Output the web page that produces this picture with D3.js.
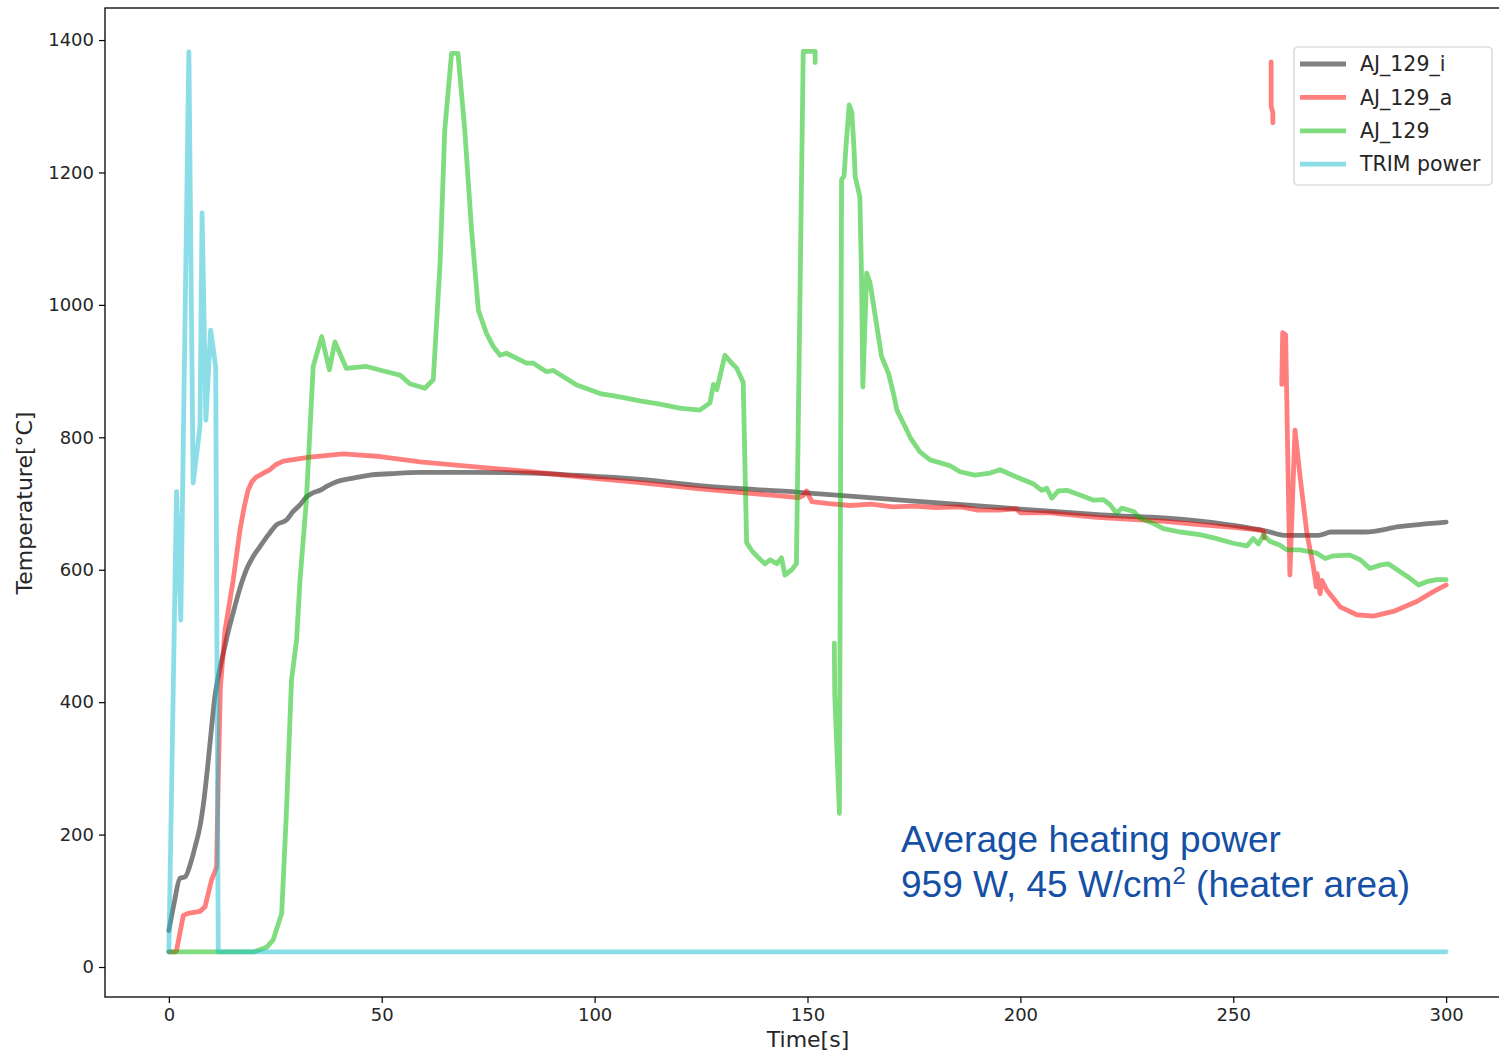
<!DOCTYPE html>
<html lang="en">
<head>
<meta charset="UTF-8">
<title>Temperature vs time</title>
<script src="https://d3js.org/d3.v7.min.js"></script>
<style>
  html, body { margin: 0; padding: 0; background: #fff; }
  svg { display: block; }
</style>
</head>
<body>
<div id="chart"></div>
<script>
// AJ_129_i (gray)
const timeI = [0, 1.2, 2.6, 3.8, 5.3, 6.3, 7.3, 8.3, 9.2, 10, 10.8, 11.8, 12.8, 14, 15.1, 16.6, 18.2, 19.8, 21.4, 23.4, 25.3, 27.6, 29.2, 30.8, 32.3, 33.8, 35.5, 37.4, 39.4, 43, 47.2, 52, 59, 70.7, 85, 100, 110, 124.7, 148, 172, 195, 219, 240, 250, 258, 262, 270, 273, 281, 289, 300];
const tempI = [55, 95, 134, 136, 161, 185, 212, 255, 308, 360, 408, 445, 474, 508, 535, 570, 600, 620, 635, 653, 668, 675, 688, 698, 710, 716, 720, 727, 733, 738, 743, 745, 747, 747, 746, 741, 737, 727, 717, 705, 694, 683, 675, 667, 658, 652, 652, 657, 657, 665, 672];

// AJ_129_a (red), null = gap in the record
const timeA = [0, 1.5, 1.8, 3.4, 4.5, 7.3, 8.5, 10, 11.2, 11.6, 12.1, 13.2, 15.1, 16.7, 17.7, 18.6, 19.5, 20.5, 21.4, 22.5, 23.7, 25.2, 26.9, 30, 33.1, 40.9, 49.6, 59, 70.7, 85, 100, 110, 124.7, 148, 149, 149.8, 151, 155, 160, 165, 170, 175, 180, 186, 190, 195, 199, 200, 207, 218, 226, 234, 242, 250, 256.3, 257.1, 257.3,
  258, 258.9, 258.9, 259.3, 259.3,
  260, 261.4, 261.6, 262.3, 263.3, 264.5, 265.7, 267.3, 268.8, 269.5, 269.7, 270.4, 270.8, 272, 275.1, 279, 282.9, 287.6, 293.1, 297, 300];
const tempA = [23, 23, 25, 78, 81, 84, 91, 131, 151, 282, 423, 509, 584, 660, 695, 720, 733, 740, 743, 747, 751, 759, 764, 767, 770, 775, 771, 763, 756, 748, 738, 732, 722, 709, 712, 719, 703, 700, 697, 699, 695, 696, 694, 695, 690, 690, 692, 686, 686, 679, 676, 673, 668, 664, 660, 658, 648,
  null, 1367, 1300, 1290, 1275,
  null, 880, 958, 955, 592, 811, 740, 655, 605, 574, 594, 564, 584, 569, 544, 532, 530, 537, 552, 567, 577];

// AJ_129 (green)
const time129 = [0, 20, 23, 24.5, 26.5, 27.6, 28.8, 30, 30.8, 32.3, 33.9, 35.9, 37.7, 39, 41.7, 46.4, 51.1, 54.3, 56.6, 60.1, 62.1, 63.7, 64.8, 66.4, 67.9, 69.5, 71.1, 72.7, 74.6, 76.2, 77.8, 79.3, 84, 85.6, 88.7, 90.3, 95.8, 101.3, 105.9, 110.6, 115.3, 120, 124.7, 127.1, 127.9, 128.7, 130.6, 132.2, 133.4, 134.9, 135.7, 136.9, 138.5, 140, 141.2, 142.8, 143.9, 144.7, 146.3, 147.4, 149, 151.8, 151.8,
  154, 156.3, 156.4, 157.5, 158, 158.6, 159, 159.8, 160.4, 160.9, 161.2, 162.3, 162.7, 163, 163.9, 164.7, 167.4, 169, 170.2, 171, 173.3, 174.1, 176.4, 178.8, 183.5, 185.8, 189.3, 192.9, 195.2, 199.1, 203, 205, 206.2, 207.4, 208.9, 210.9, 214, 217.2, 219.5, 221.1, 222.6, 223.8, 226.6, 228.1, 231.2, 233.6, 237.5, 242.2, 246.1, 250, 253.2, 254.7, 255.9, 257.1, 258.6, 261, 262.6, 265.7, 269.6, 271.6, 273.5, 277.4, 279.8, 282.1, 284.5, 286.4, 289.2, 291.5, 293.5, 295.4, 297.8, 300];
const temp129 = [23, 23, 30, 41, 81, 232, 433, 494, 584, 705, 907, 952, 902, 944, 904, 907, 899, 894, 881, 874, 887, 1063, 1264, 1380, 1380, 1264, 1113, 992, 957, 937, 924, 927, 912, 912, 899, 901, 879, 866, 861, 855, 850, 844, 841, 852, 880, 872, 924, 912, 904, 883, 641, 629, 618, 609, 615, 609, 618, 592, 600, 609, 1383, 1383, 1366,
  null, 489, 411, 232, 1189, 1195, 1236, 1302, 1291, 1239, 1194, 1163, 1038, 876, 1048, 1033, 922, 897, 866, 841, 811, 800, 778, 766, 757, 748, 743, 746, 751, 740, 730, 720, 723, 708, 719, 720, 713, 705, 706, 698, 685, 693, 688, 678, 670, 662, 657, 653, 647, 640, 636, 647, 639, 652, 643, 637, 630, 630, 625, 617, 621, 622, 615, 602, 607, 609, 597, 587, 577, 582, 585, 585];

// TRIM power (cyan)
const timePower = [0, 1.8, 2.8, 4.7, 5.7, 7.3, 7.8, 8.7, 9.8, 10.3, 11.0, 11.6, 300];
const valPower = [23, 718, 524, 1382, 731, 816, 1139, 826, 962, 940, 906, 23, 23];

const seriesNames = ['AJ_129_i', 'AJ_129_a', 'AJ_129', 'TRIM power'];
const seriesColors = ['#000000', '#ff0000', '#00ba00', '#17becf'];
const xTicks = [0, 50, 100, 150, 200, 250, 300];
const yTicks = [0, 200, 400, 600, 800, 1000, 1200, 1400];

const zip = (ts, vs) => ts.map((t, i) => [t, vs[i]]);
const series = [zip(timeI, tempI), zip(timeA, tempA), zip(time129, temp129), zip(timePower, valPower)];

const width = 1499, height = 1053;
const plot = { left: 105, right: 1510, top: 8, bottom: 997 };

const svg = d3.select('#chart').append('svg')
  .attr('width', width).attr('height', height)
  .style('font-family', '"DejaVu Sans", sans-serif');

const x = d3.scaleLinear().domain([-15, 315]).range([plot.left, plot.right]);
const y = d3.scaleLinear().domain([-45.3, 1448.4]).range([plot.bottom, plot.top]);

svg.append('defs').append('clipPath').attr('id', 'clip')
  .append('rect')
  .attr('x', plot.left).attr('y', plot.top)
  .attr('width', plot.right - plot.left).attr('height', plot.bottom - plot.top);

// lines (the smooth gray trace gets a monotone curve)
const line = d3.line()
  .defined(d => d[1] != null)
  .x(d => x(d[0]))
  .y(d => y(d[1]));
const smoothLine = d3.line()
  .curve(d3.curveMonotoneX)
  .x(d => x(d[0]))
  .y(d => y(d[1]));

svg.append('g').attr('clip-path', 'url(#clip)')
  .selectAll('path')
  .data(series)
  .join('path')
  .attr('d', (d, i) => i === 0 ? smoothLine(d) : line(d))
  .attr('fill', 'none')
  .attr('stroke', (d, i) => seriesColors[i])
  .attr('stroke-opacity', 0.5)
  .attr('stroke-width', 4.8)
  .attr('stroke-linecap', 'round')
  .attr('stroke-linejoin', 'round');

// axes
const xAxis = svg.append('g')
  .attr('transform', `translate(0,${plot.bottom})`)
  .call(d3.axisBottom(x).tickValues(xTicks).tickSize(6).tickPadding(5).tickFormat(d3.format('d')));
const yAxis = svg.append('g')
  .attr('transform', `translate(${plot.left},0)`)
  .call(d3.axisLeft(y).tickValues(yTicks).tickSize(6).tickPadding(5).tickFormat(d3.format('d')));

[xAxis, yAxis].forEach(g => {
  g.select('.domain').remove();
  g.selectAll('.tick line').attr('stroke', '#000').attr('stroke-width', 1.2);
  g.selectAll('.tick text')
    .attr('fill', '#262626')
    .style('font-family', '"DejaVu Sans", sans-serif')
    .style('font-size', '18px');
});

// frame
svg.append('rect')
  .attr('x', plot.left).attr('y', plot.top)
  .attr('width', plot.right - plot.left).attr('height', plot.bottom - plot.top)
  .attr('fill', 'none').attr('stroke', '#000').attr('stroke-width', 1.3);

// axis labels
svg.append('text')
  .attr('x', 808).attr('y', 1047)
  .attr('text-anchor', 'middle')
  .attr('fill', '#262626')
  .style('font-size', '22px')
  .text('Time[s]');

svg.append('text')
  .attr('transform', 'translate(32,503) rotate(-90)')
  .attr('text-anchor', 'middle')
  .attr('fill', '#262626')
  .style('font-size', '22px')
  .text('Temperature[°C]');

// legend
const legend = svg.append('g').attr('transform', 'translate(1294,47)');
legend.append('rect')
  .attr('width', 198).attr('height', 138)
  .attr('rx', 4)
  .attr('fill', '#fff').attr('fill-opacity', 0.8)
  .attr('stroke', '#d0d0d0').attr('stroke-width', 1.2);

const items = legend.selectAll('.item')
  .data(seriesNames)
  .join('g')
  .attr('class', 'item')
  .attr('transform', (d, i) => `translate(0,${17 + i * 33.4})`);

items.append('line')
  .attr('x1', 6).attr('x2', 52)
  .attr('stroke', (d, i) => seriesColors[i])
  .attr('stroke-opacity', 0.5)
  .attr('stroke-width', 4.8);

items.append('text')
  .attr('x', 66).attr('dy', '0.35em')
  .attr('fill', '#262626')
  .style('font-size', '20.5px')
  .text(d => d);

// annotation
const note = svg.append('text')
  .attr('fill', '#1550a5')
  .style('font-family', '"Liberation Sans", Arial, sans-serif')
  .style('font-size', '37px');
note.append('tspan').attr('x', 901).attr('y', 852).text('Average heating power');
const l2 = note.append('tspan').attr('x', 901).attr('y', 897);
l2.append('tspan').text('959 W, 45 W/cm');
l2.append('tspan').attr('dy', -13).style('font-size', '24px').text('2');
l2.append('tspan').attr('dy', 13).text(' (heater area)');
</script>
</body>
</html>
